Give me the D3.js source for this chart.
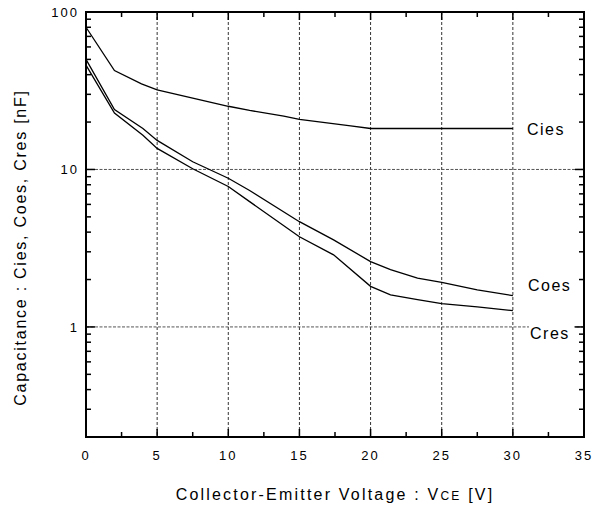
<!DOCTYPE html>
<html><head><meta charset="utf-8">
<script src="https://cdn.jsdelivr.net/npm/d3@7"></script>
<style>body{margin:0;background:#fff}svg{display:block}</style>
</head><body>
<svg id="c" width="603" height="510"></svg>
<script>
const xTicks = [0,5,10,15,20,25,30,35];
const yTicks = [1,10,100];
const ciesX = [0,2,3.9,5,10,11.5,13.9,15,18.6,20,30];
const ciesY = [80,42.5,35,32,25.2,23.7,21.8,20.8,18.9,18.2,18.2];
const coesX = [0,2,4,5,7.5,10,11.5,15,17.4,20,21.4,23.3,25,27.5,30];
const coesY = [50,24,18.2,15.3,11.2,8.8,7.35,4.66,3.57,2.6,2.31,2.04,1.92,1.72,1.58];
const cresX = [0,2,4,5,7.5,10,11.5,15,17.4,20,21.4,23.3,25,27.5,30];
const cresY = [46,22.8,16.5,13.6,10.1,7.8,6.25,3.74,2.87,1.81,1.6,1.49,1.405,1.34,1.27];
const labels = ["Cies","Coes","Cres"];

const svg = d3.select("#c");
const L=86,R=584,T=12,B=437;
const x = d3.scaleLinear().domain([0,35]).range([L,R]);
const y = d3.scaleLog().domain([0.2,100]).range([B,T]);
const font = "'Liberation Sans', Arial, sans-serif";

// grid
const g = svg.append("g");
g.selectAll(".vg").data(xTicks.slice(1,-1)).enter().append("line")
 .attr("x1",d=>x(d)).attr("x2",d=>x(d)).attr("y1",T).attr("y2",B)
 .attr("stroke","#333").attr("stroke-width",1).attr("stroke-dasharray","3,2");
g.selectAll(".hg").data([1,10]).enter().append("line")
 .attr("x1",L).attr("x2",R).attr("y1",d=>y(d)).attr("y2",d=>y(d))
 .attr("stroke","#555").attr("stroke-width",1).attr("stroke-dasharray","3,1.5");

// minor ticks
const minors=[];
[0.1,1,10].forEach(dec=>{for(let k=2;k<=9;k++){const v=dec*k; if(v>0.2+1e-9 && v<100) minors.push(v);}});
const tk = svg.append("g").attr("stroke","#000").attr("stroke-width",1.5);
minors.forEach(v=>{
  tk.append("line").attr("x1",L).attr("x2",L+5).attr("y1",y(v)).attr("y2",y(v));
  tk.append("line").attr("x1",R).attr("x2",R-5).attr("y1",y(v)).attr("y2",y(v));
});
yTicks.forEach(v=>{
  tk.append("line").attr("x1",L).attr("x2",L+9).attr("y1",y(v)).attr("y2",y(v));
  tk.append("line").attr("x1",R).attr("x2",R-9).attr("y1",y(v)).attr("y2",y(v));
});
const xMinor = d3.range(2.5,35,5);
xMinor.forEach(v=>{
  tk.append("line").attr("x1",x(v)).attr("x2",x(v)).attr("y1",B).attr("y2",B-5);
  tk.append("line").attr("x1",x(v)).attr("x2",x(v)).attr("y1",T).attr("y2",T+5);
});
xTicks.slice(1,-1).forEach(v=>{
  tk.append("line").attr("x1",x(v)).attr("x2",x(v)).attr("y1",B).attr("y2",B-8);
  tk.append("line").attr("x1",x(v)).attr("x2",x(v)).attr("y1",T).attr("y2",T+8);
});

// curves
const line = d3.line().x(d=>x(d[0])).y(d=>y(d[1]));
[[ciesX,ciesY],[coesX,coesY],[cresX,cresY]].forEach(([xs,ys])=>{
  svg.append("path").datum(xs.map((v,i)=>[v,ys[i]])).attr("d",line)
   .attr("fill","none").attr("stroke","#000").attr("stroke-width",1.3);
});

// frame
svg.append("rect").attr("x",L).attr("y",T).attr("width",R-L).attr("height",B-T)
 .attr("fill","none").attr("stroke","#000").attr("stroke-width",2);

// tick labels
svg.selectAll(".xl").data(xTicks).enter().append("text")
 .attr("x",d=>x(d)).attr("y",B+23).attr("text-anchor","middle")
 .attr("font-family",font).attr("font-size",13).attr("letter-spacing",2).text(d=>d);
svg.selectAll(".yl").data(yTicks).enter().append("text")
 .attr("x",L-7).attr("y",d=>y(d)+5).attr("text-anchor","end")
 .attr("font-family",font).attr("font-size",13).attr("letter-spacing",2).text(d=>d);

// series labels
const lblPos = [[527,ciesY[ciesY.length-1]],[528,1.85],[530,0.92]];
labels.forEach((t,i)=>{
  const ty = y(lblPos[i][1]);
  if(t==="Cres"){
    svg.append("rect").attr("x",lblPos[i][0]-1).attr("y",ty-7).attr("width",45).attr("height",16).attr("fill","#fff");
  }
  svg.append("text").attr("x",lblPos[i][0]).attr("y",ty+6)
   .attr("font-family",font).attr("font-size",16).attr("letter-spacing",1.5).text(t);
});

// axis titles
const xt = svg.append("text").attr("x",(L+R)/2).attr("y",500).attr("text-anchor","middle")
 .attr("font-family",font).attr("font-size",16).attr("letter-spacing",2.2);
xt.append("tspan").text("Collector-Emitter Voltage : V");
xt.append("tspan").attr("font-size",12).text("CE");
xt.append("tspan").text(" [V]");
svg.append("text").attr("transform",`translate(26,${(T+B)/2+23}) rotate(-90)`)
 .attr("text-anchor","middle").attr("font-family",font).attr("font-size",16).attr("letter-spacing",1.75)
 .text("Capacitance : Cies, Coes, Cres [nF]");
</script>
</body></html>
